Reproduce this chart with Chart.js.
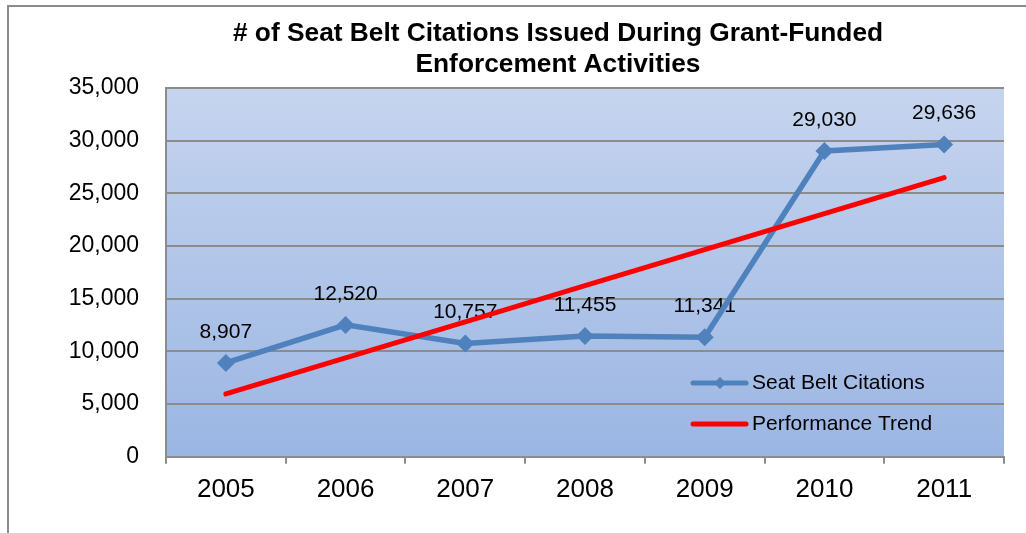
<!DOCTYPE html>
<html>
<head>
<meta charset="utf-8">
<script src="https://cdn.jsdelivr.net/npm/chart.js@4/dist/chart.umd.min.js"></script>
<style>
  html, body { margin: 0; padding: 0; background: #fff; overflow: hidden; }
  #wrap { width: 1026px; height: 533px; }
</style>
</head>
<body>
<div id="wrap"><canvas id="myChart" width="1026" height="533"></canvas></div>
<script>
// eje X
var years = ['2005', '2006', '2007', '2008', '2009', '2010', '2011']
// citations
var citations = [8907, 12520, 10757, 11455, 11341, 29030, 29636]
// red trend line
var trend = [5970, 9390, 12810, 16240, 19660, 23080, 26500]
var yTicks = [0, 5000, 10000, 15000, 20000, 25000, 30000, 35000]

var titleLines = ['# of Seat Belt Citations Issued During Grant-Funded', 'Enforcement Activities']
var seriesNames = ['Seat Belt Citations', 'Performance Trend']
var blue = '#4F81BD'
var red = '#FF0000'
var fontFam = '"Liberation Sans", Arial, sans-serif'

function fmt(v){
  return v.toLocaleString('en-US')
}

// frame + plot gradient
var background = {
  id: 'background',
  afterLayout: function(chart){
    // title is centred a bit right of the canvas middle in the original
    var t = chart.titleBlock
    if (t) {
      t.left = 112
      t.right = chart.chartArea.right
      t.width = t.right - t.left
    }
  },
  beforeDraw: function(chart){
    var c = chart.ctx
    var a = chart.chartArea
    c.save()
    c.fillStyle = '#fff'
    c.fillRect(0, 0, chart.width, chart.height)
    c.strokeStyle = '#8c8c8c'
    c.lineWidth = 2
    c.beginPath()
    c.moveTo(8, chart.height + 2)
    c.lineTo(8, 6)
    c.lineTo(chart.width + 2, 6)
    c.stroke()
    var g = c.createLinearGradient(0, a.top, 0, a.bottom)
    g.addColorStop(0, '#C6D4EE')
    g.addColorStop(1, '#9BB6E3')
    c.fillStyle = g
    c.fillRect(a.left, a.top, a.right - a.left, a.bottom - a.top)
    c.restore()
  }
}

// value labels above the points (drawn under the lines like the original)
var valueLabels = {
  id: 'valueLabels',
  beforeDatasetsDraw: function(chart){
    var c = chart.ctx
    var meta = chart.getDatasetMeta(0)
    c.save()
    c.font = '21px ' + fontFam
    c.fillStyle = '#000'
    c.textAlign = 'center'
    c.textBaseline = 'middle'
    meta.data.forEach(function(pt, i){
      c.fillText(fmt(citations[i]), pt.x, pt.y - 31)
    })
    c.restore()
  }
}

// legend inside the plot area
var innerLegend = {
  id: 'innerLegend',
  afterDraw: function(chart){
    var c = chart.ctx
    var a = chart.chartArea
    var x0 = a.left + 527
    var rows = [a.top + 295, a.top + 336]
    c.save()
    c.lineCap = 'round'
    // blue
    c.strokeStyle = blue
    c.lineWidth = 5
    c.beginPath(); c.moveTo(x0, rows[0]); c.lineTo(x0 + 53, rows[0]); c.stroke()
    c.fillStyle = blue
    c.beginPath()
    var mx = x0 + 27, r = 6
    c.moveTo(mx, rows[0] - r); c.lineTo(mx + r, rows[0]); c.lineTo(mx, rows[0] + r); c.lineTo(mx - r, rows[0]); c.closePath(); c.fill()
    // red
    c.strokeStyle = red
    c.beginPath(); c.moveTo(x0, rows[1]); c.lineTo(x0 + 53, rows[1]); c.stroke()
    c.font = '21px ' + fontFam
    c.fillStyle = '#000'
    c.textAlign = 'left'
    c.textBaseline = 'middle'
    c.fillText(seriesNames[0], x0 + 59, rows[0])
    c.fillText(seriesNames[1], x0 + 59, rows[1])
    c.restore()
  }
}

var ctx = document.getElementById('myChart').getContext('2d')
var myChart = new Chart(ctx, {
  type: 'line',
  data: {
    labels: years,
    datasets: [{
      label: seriesNames[0],
      data: citations,
      borderColor: blue,
      backgroundColor: blue,
      borderWidth: 5.5,
      pointStyle: 'rectRot',
      pointRadius: 9,
      pointBorderWidth: 0,
      tension: 0,
      order: 2
    }, {
      label: seriesNames[1],
      data: trend,
      borderColor: red,
      backgroundColor: red,
      borderWidth: 5,
      pointRadius: 0,
      tension: 0,
      borderCapStyle: 'round',
      order: 1
    }]
  },
  options: {
    responsive: false,
    animation: false,
    layout: { padding: { left: 8, right: 22, top: 2, bottom: 18 } },
    plugins: {
      legend: { display: false },
      tooltip: { enabled: false },
      title: {
        display: true,
        text: titleLines,
        color: '#000',
        font: { family: fontFam, size: 26.3, weight: 'bold', lineHeight: 1.18 },
        padding: { top: 16, bottom: 8 }
      }
    },
    scales: {
      x: {
        offset: true,
        grid: {
          offset: true,
          drawOnChartArea: false,
          drawTicks: true,
          tickLength: 7,
          color: '#8c8c8c',
          lineWidth: 2
        },
        border: { color: '#8c8c8c', width: 2 },
        ticks: {
          color: '#000',
          padding: 10,
          maxRotation: 0,
          font: { family: fontFam, size: 26 }
        }
      },
      y: {
        min: 0,
        max: 35000,
        afterBuildTicks: function(axis){
          axis.ticks = yTicks.map(function(v){ return { value: v } })
        },
        afterFit: function(axis){ axis.width = 158 },
        grid: {
          color: '#8c8c8c',
          lineWidth: 2,
          drawTicks: false
        },
        border: { color: '#8c8c8c', width: 2 },
        ticks: {
          color: '#000',
          padding: 27,
          font: { family: fontFam, size: 23 },
          callback: function(v){ return fmt(v) }
        }
      }
    }
  },
  plugins: [background, valueLabels, innerLegend]
})
</script>
</body>
</html>
